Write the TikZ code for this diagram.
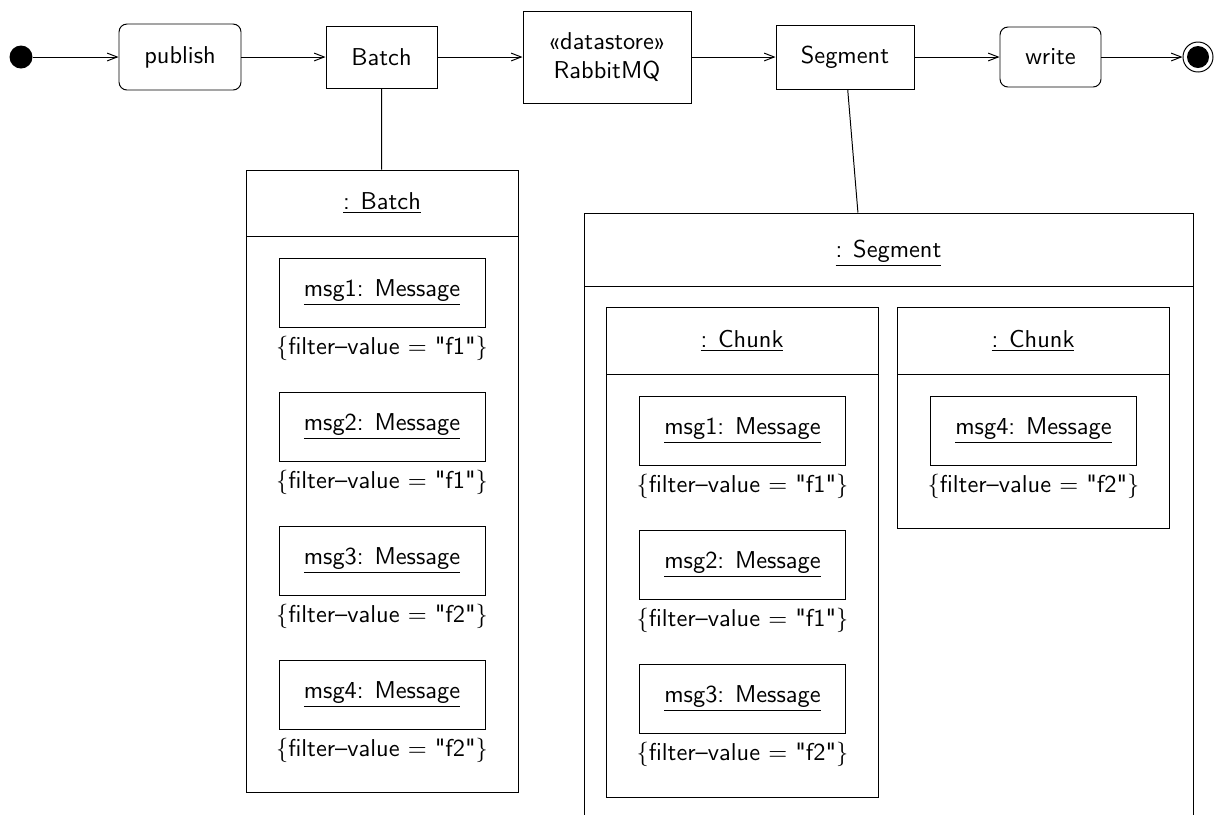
\documentclass[tikz,border=0pt]{standalone}
\usetikzlibrary{fit,arrows.meta}
\newlength\upx
\setlength\upx{0.41pt}
\newcommand\msgobj[5]{%
  \node[box, minimum width=206\upx, minimum height=69\upx, anchor=north] (#1) at (#2,#3) {};
  \node[lbl] (#1-t) at (#2,#3+38) {\underline{#4: Message}};
  \node[lbl] (#1-f) at (#2,#3+96) {$\{$filter--value $=$ \textquotedbl#5\textquotedbl$\}$};
}
\begin{document}
\begin{tikzpicture}[x=\upx, y=-\upx, font=\sffamily,
  box/.style={draw, rectangle, inner sep=0pt},
  rbox/.style={draw, rectangle, rounded corners=8\upx, inner sep=0pt},
  lbl/.style={inner sep=0pt, anchor=base},
  conn/.style={-{Straight Barb[length=4.1pt, width=3.2pt]}}]
\useasboundingbox (0,0) rectangle (1225,814);
\clip (0,0) rectangle (1225,814);

% top row
\node[circle, fill, inner sep=0pt, minimum size=23\upx] (init) at (21,57) {};
\node[rbox, minimum width=122\upx, minimum height=66\upx] (publish) at (180,57) {publish};
\node[box, minimum width=111\upx, minimum height=62\upx] (batch) at (381.5,57) {Batch};
\node[box, minimum width=168\upx, minimum height=92\upx, align=center] (rabbit) at (607,57) {«datastore»\\RabbitMQ};
\node[box, minimum width=138\upx, minimum height=64\upx] (segment) at (845,57) {Segment};
\node[rbox, minimum width=101\upx, minimum height=60\upx] (write) at (1050.5,57) {write};
\node[circle, draw, inner sep=0pt, minimum size=30\upx] (final) at (1198,57) {};
\node[circle, fill, inner sep=0pt, minimum size=22\upx] (finaldot) at (final.center) {};

\draw[conn] (init) -- (publish);
\draw[conn] (publish) -- (batch);
\draw[conn] (batch) -- (rabbit);
\draw[conn] (rabbit) -- (segment);
\draw[conn] (segment) -- (write);
\draw[conn] (write) -- (final);

% batch object
\node[box, fit={(246,170) (518,792)}] (batchobj) {};
\draw (246,236) -- (518,236);
\node[lbl] (batchtitle) at (382,209) {\underline{: Batch}};
\msgobj{bm1}{382}{258}{msg1}{f1}
\msgobj{bm2}{382}{392}{msg2}{f1}
\msgobj{bm3}{382}{526}{msg3}{f2}
\msgobj{bm4}{382}{660}{msg4}{f2}
\draw (batch) -- (batchobj);

% segment object
\node[box, fit={(584,213) (1193,951)}] (segobj) {};
\draw (584,286) -- (1193,286);
\node[lbl] (segtitle) at (888.5,257) {\underline{: Segment}};
\draw (segment) -- (segobj);

% chunk 1
\node[box, fit={(606,307) (878,797)}] (chunk1) {};
\draw (606,374) -- (878,374);
\node[lbl] (chunk1title) at (742,347) {\underline{: Chunk}};
\msgobj{cm1}{742.5}{396}{msg1}{f1}
\msgobj{cm2}{742.5}{530}{msg2}{f1}
\msgobj{cm3}{742.5}{664}{msg3}{f2}

% chunk 2
\node[box, fit={(897,307) (1169,528)}] (chunk2) {};
\draw (897,374) -- (1169,374);
\node[lbl] (chunk2title) at (1033,347) {\underline{: Chunk}};
\msgobj{cm4}{1033.5}{396}{msg4}{f2}
\end{tikzpicture}
\end{document}
